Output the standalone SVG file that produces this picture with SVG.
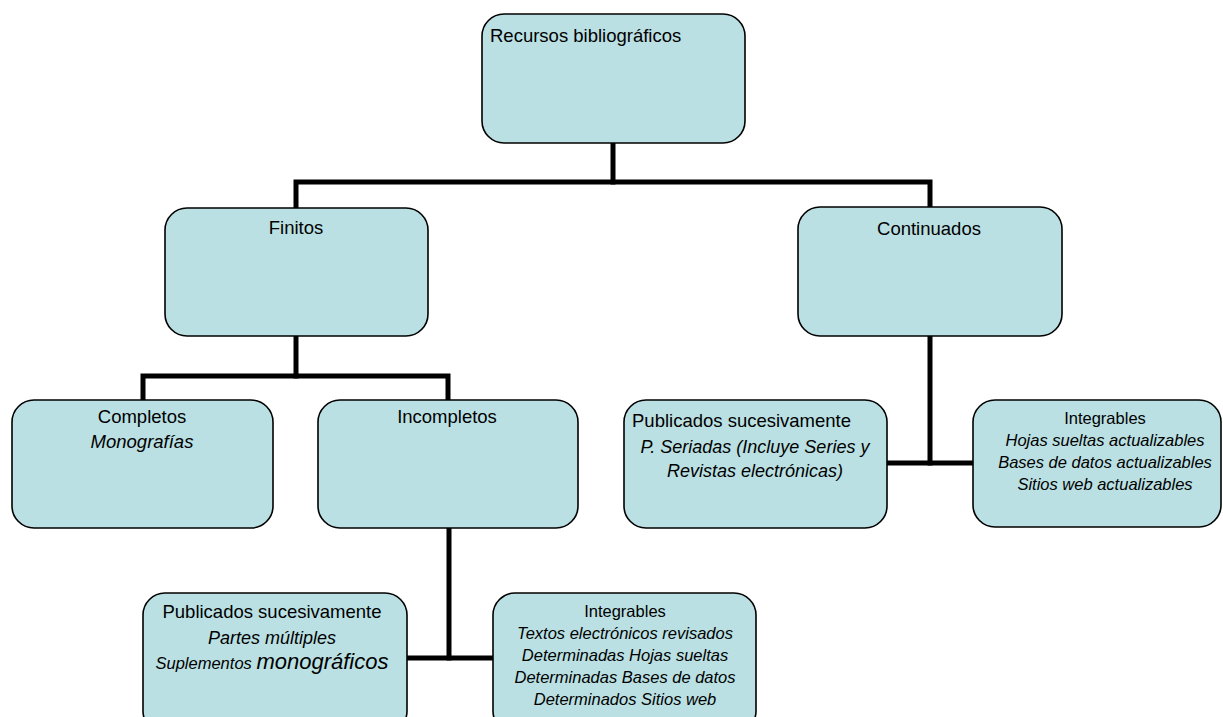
<svg xmlns="http://www.w3.org/2000/svg" width="1223" height="717" viewBox="0 0 1223 717">
<style>
.box{fill:#bae0e3;stroke:#000;stroke-width:1.6}
.ln{fill:none;stroke:#000;stroke-width:5;stroke-linecap:square}
text{font-family:"Liberation Sans",Arial,sans-serif;fill:#000}
.t{font-size:18.5px}
.s{font-size:16.5px}
.i{font-style:italic;font-size:16.5px}
.c{text-anchor:middle}
</style>
<rect width="1223" height="717" fill="#fff"/>
<g id="connectors">
<polyline class="ln" points="613,143 613,182"/>
<polyline class="ln" points="296,207 296,182 930,182 930,207"/>
<polyline class="ln" points="296,336 296,376"/>
<polyline class="ln" points="143,400 143,376 448,376 448,400"/>
<polyline class="ln" points="449,528 449,658"/>
<polyline class="ln" points="407,658 493,658"/>
<polyline class="ln" points="930,336 930,463"/>
<polyline class="ln" points="887,463 973,463"/>
</g>
<g id="root">
<rect class="box" x="482" y="14" width="263" height="129" rx="22"/>
<text class="t" x="490" y="42">Recursos bibliográficos</text>
</g>
<g id="finitos">
<rect class="box" x="165" y="208" width="263" height="128" rx="22"/>
<text class="t c" x="296" y="234">Finitos</text>
</g>
<g id="continuados">
<rect class="box" x="798" y="207" width="264" height="129" rx="22"/>
<text class="t c" x="929" y="235">Continuados</text>
</g>
<g id="completos">
<rect class="box" x="12" y="400" width="261" height="128" rx="22"/>
<text class="t c" x="142" y="423">Completos</text>
<text class="t c" x="142" y="448" font-style="italic">Monografías</text>
</g>
<g id="incompletos">
<rect class="box" x="318" y="400" width="260" height="128" rx="22"/>
<text class="t c" x="447" y="423">Incompletos</text>
</g>
<g id="pub-continuados">
<rect class="box" x="624" y="400" width="263" height="128" rx="22"/>
<text class="t" x="632" y="427">Publicados sucesivamente</text>
<text class="c" x="755" y="453" font-style="italic" font-size="18px">P. Seriadas (Incluye Series y</text>
<text class="c" x="755" y="477" font-style="italic" font-size="18px">Revistas electrónicas)</text>
</g>
<g id="int-continuados">
<rect class="box" x="973" y="400" width="248" height="127" rx="22"/>
<text class="s c" x="1105" y="424">Integrables</text>
<text class="i c" x="1105" y="446">Hojas sueltas actualizables</text>
<text class="i c" x="1105" y="468">Bases de datos actualizables</text>
<text class="i c" x="1105" y="490">Sitios web actualizables</text>
</g>
<g id="pub-incompletos">
<rect class="box" x="143" y="593" width="264" height="140" rx="22"/>
<text class="t c" x="272" y="618">Publicados sucesivamente</text>
<text class="c" x="272" y="644" font-style="italic" font-size="18px">Partes múltiples</text>
<text class="c" x="272" y="669" font-style="italic"><tspan font-size="16.5px">Suplementos </tspan><tspan font-size="22px">monográficos</tspan></text>
</g>
<g id="int-incompletos">
<rect class="box" x="493" y="593" width="263" height="140" rx="22"/>
<text class="s c" x="625" y="617">Integrables</text>
<text class="i c" x="625" y="639">Textos electrónicos revisados</text>
<text class="i c" x="625" y="661">Determinadas Hojas sueltas</text>
<text class="i c" x="625" y="683">Determinadas Bases de datos</text>
<text class="i c" x="625" y="705">Determinados Sitios web</text>
</g>
</svg>
